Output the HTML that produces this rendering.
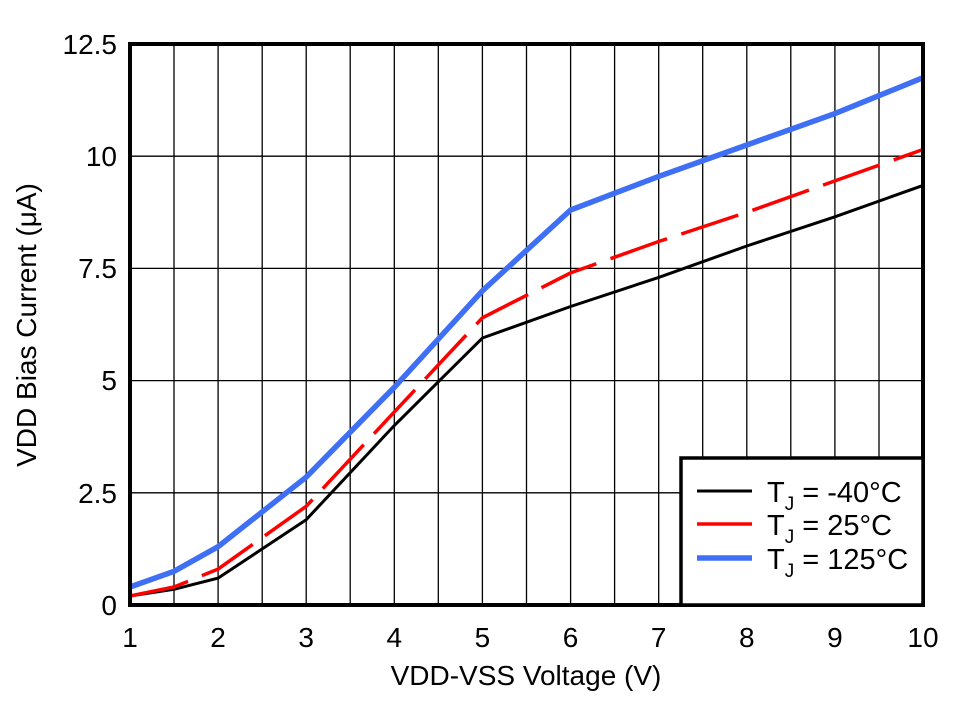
<!DOCTYPE html>
<html><head><style>
body{margin:0;background:#fff;}
svg text{font-family:"Liberation Sans",Arial,sans-serif;fill:#000;}
</style></head><body>
<svg width="964" height="701" viewBox="0 0 964 701" xmlns="http://www.w3.org/2000/svg">
<rect width="964" height="701" fill="#fff"/>
<g stroke="#000" stroke-width="1.3">
<line x1="174" y1="44" x2="174" y2="605"/><line x1="218.1" y1="44" x2="218.1" y2="605"/>
<line x1="262.2" y1="44" x2="262.2" y2="605"/><line x1="306.2" y1="44" x2="306.2" y2="605"/>
<line x1="350.2" y1="44" x2="350.2" y2="605"/><line x1="394.3" y1="44" x2="394.3" y2="605"/>
<line x1="438.3" y1="44" x2="438.3" y2="605"/><line x1="482.4" y1="44" x2="482.4" y2="605"/>
<line x1="526.5" y1="44" x2="526.5" y2="605"/><line x1="570.6" y1="44" x2="570.6" y2="605"/>
<line x1="614.6" y1="44" x2="614.6" y2="605"/><line x1="658.7" y1="44" x2="658.7" y2="605"/>
<line x1="702.7" y1="44" x2="702.7" y2="605"/><line x1="746.8" y1="44" x2="746.8" y2="605"/>
<line x1="790.8" y1="44" x2="790.8" y2="605"/><line x1="834.9" y1="44" x2="834.9" y2="605"/>
<line x1="879" y1="44" x2="879" y2="605"/>
<line x1="130" y1="156.2" x2="923" y2="156.2"/><line x1="130" y1="268.4" x2="923" y2="268.4"/>
<line x1="130" y1="380.6" x2="923" y2="380.6"/><line x1="130" y1="492.8" x2="923" y2="492.8"/>
</g>
<polyline fill="none" stroke="#000" stroke-width="3" points="130,596 174,589.3 218.1,578.1 306.2,519.7 394.3,425.5 482.4,338 570.6,306.5 658.7,277.4 746.8,246 834.9,216.8 923,185.4"/>
<polyline fill="none" stroke="#ff0000" stroke-width="3.5" stroke-dasharray="60,15" points="130,596 174,587 218.1,569.1 306.2,506.3 394.3,412 482.4,317.8 570.6,272.9 658.7,241.5 746.8,212.3 834.9,180.9 923,149.5"/>
<polyline fill="none" stroke="#3f6ff5" stroke-width="5.5" points="130,587 174,571.3 218.1,546.7 306.2,477.1 394.3,387.3 482.4,290.8 570.6,210 658.7,176.4 746.8,145 834.9,113.6 923,77.7"/>
<rect x="130" y="44" width="793" height="561" fill="none" stroke="#000" stroke-width="4"/>
<rect x="681" y="458" width="242" height="147" fill="#fff" stroke="#000" stroke-width="3.5"/>
<line x1="697" y1="491" x2="752" y2="491" stroke="#000" stroke-width="3"/>
<line x1="697" y1="524" x2="752" y2="524" stroke="#ff0000" stroke-width="3.5"/>
<line x1="697" y1="558" x2="752" y2="558" stroke="#3f6ff5" stroke-width="5.5"/>
<g font-size="29">
<text x="767" y="502">T<tspan font-size="19" dy="8">J</tspan><tspan dy="-8"> = -40°C</tspan></text>
<text x="767" y="535">T<tspan font-size="19" dy="8">J</tspan><tspan dy="-8"> = 25°C</tspan></text>
<text x="767" y="569">T<tspan font-size="19" dy="8">J</tspan><tspan dy="-8"> = 125°C</tspan></text>
</g>
<g font-size="28" text-anchor="end">
<text x="117" y="54">12.5</text><text x="117" y="166">10</text><text x="117" y="278">7.5</text>
<text x="117" y="390">5</text><text x="117" y="503">2.5</text><text x="117" y="615">0</text>
</g>
<g font-size="28" text-anchor="middle">
<text x="130" y="647">1</text><text x="218.1" y="647">2</text><text x="306.2" y="647">3</text>
<text x="394.3" y="647">4</text><text x="482.4" y="647">5</text><text x="570.6" y="647">6</text>
<text x="658.7" y="647">7</text><text x="746.8" y="647">8</text><text x="834.9" y="647">9</text>
<text x="923" y="647">10</text>
<text x="526" y="685">VDD-VSS Voltage (V)</text>
<text transform="translate(36,325) rotate(-90)">VDD Bias Current (μA)</text>
</g>
</svg>
</body></html>
